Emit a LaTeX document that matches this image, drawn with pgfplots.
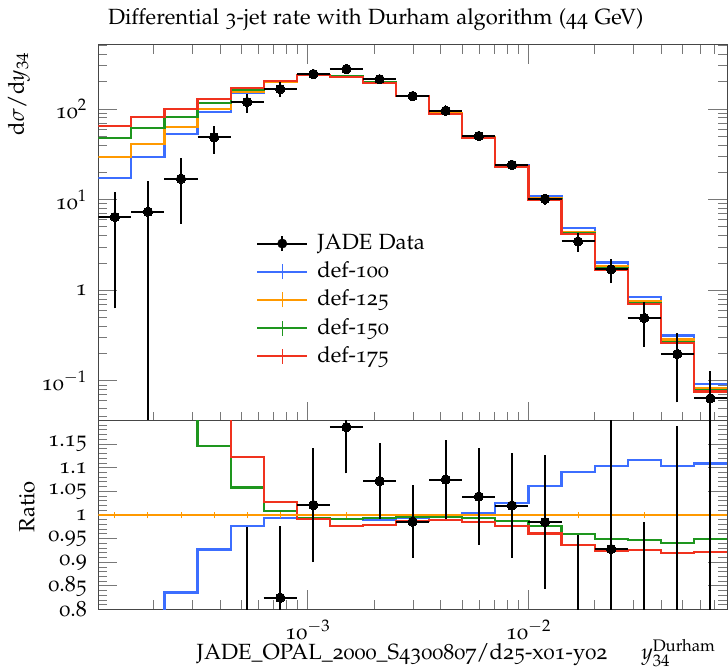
\documentclass[border=0pt]{standalone}
\usepackage[T1]{fontenc}
\usepackage[osf]{mathpazo}
\usepackage{pgfplots}
\usepackage{pgfplotstable}
\pgfplotsset{compat=1.18}
\definecolor{cblue}{RGB}{60,110,255}
\definecolor{corange}{RGB}{255,153,0}
\definecolor{cgreen}{RGB}{30,150,30}
\definecolor{cred}{RGB}{240,50,30}
\definecolor{framec}{RGB}{70,70,70}
\definecolor{tickc}{RGB}{120,120,120}

% data points: bin centre, value (main panel) and ratio to def-125
\pgfplotstableread{
x y r
1.3335e-4 6.43 0.219
1.8836e-4 7.35 0.179
2.6607e-4 17.0 0.266
3.7584e-4 48.7 0.483
5.3088e-4 119.5 0.783
7.4989e-4 166 0.825
1.0593e-3 243 1.021
1.4962e-3 276 1.186
2.1135e-3 213 1.072
2.9854e-3 139 0.986
4.2170e-3 95.8 1.075
5.9566e-3 50.3 1.039
8.4140e-3 24.2 1.020
1.1885e-2 10.2 0.985
1.6788e-2 3.45 0.775
2.3714e-2 1.70 0.928
3.3497e-2 0.494 0.65
4.7315e-2 0.198 0.69
6.6834e-2 0.0641 0.776
}\datapts

% MC histograms: left bin edge, value (last row = right edge)
\pgfplotstableread{
x B O G R
1.1220e-4 17.3 29.3 48.2 65.5
1.5849e-4 29.8 41.1 62.2 81.0
2.2387e-4 53.3 63.8 82.2 100.7
3.1623e-4 93.4 100.8 115.5 130.0
4.4668e-4 149.2 152.7 161.6 171.4
6.3096e-4 198.8 200 201.8 205.5
8.9125e-4 236.3 238 236.3 235.9
1.2589e-3 229.9 232 230.0 226.7
1.7783e-3 196.3 198.5 197.2 194.3
2.5119e-3 139.1 140 139.5 138.2
3.5481e-3 88.6 89.0 88.6 88.0
5.0119e-3 48.7 48.5 48.2 47.8
7.0795e-3 24.3 23.7 23.4 23.2
1.0000e-2 11.03 10.4 10.16 9.99
1.4125e-2 4.83 4.43 4.25 4.15
1.9953e-2 2.02 1.83 1.74 1.69
2.8184e-2 0.850 0.762 0.721 0.706
3.9811e-2 0.316 0.286 0.269 0.263
5.6234e-2 0.0916 0.0826 0.0785 0.0761
7.9433e-2 0.0916 0.0826 0.0785 0.0761
}\mcmain

\pgfplotstableread{
x B O G R
1.1220e-4 0.590 1 1.645 2.235
1.5849e-4 0.725 1 1.513 1.971
2.2387e-4 0.836 1 1.288 1.578
3.1623e-4 0.927 1 1.146 1.290
4.4668e-4 0.977 1 1.058 1.1225
6.3096e-4 0.994 1 1.009 1.0275
8.9125e-4 0.993 1 0.993 0.991
1.2589e-3 0.991 1 0.9915 0.977
1.7783e-3 0.989 1 0.9937 0.979
2.5119e-3 0.9937 1 0.9965 0.987
3.5481e-3 0.995 1 0.9958 0.989
5.0119e-3 1.005 1 0.9944 0.986
7.0795e-3 1.026 1 0.9866 0.977
1.0000e-2 1.061 1 0.977 0.961
1.4125e-2 1.091 1 0.959 0.937
1.9953e-2 1.1035 1 0.950 0.923
2.8184e-2 1.116 1 0.9465 0.926
3.9811e-2 1.1035 1 0.941 0.919
5.6234e-2 1.109 1 0.950 0.921
7.9433e-2 1.109 1 0.950 0.921
}\mcratio

\pgfplotsset{
  mcline/.style={const plot mark left, line width=2.2pt, no marks},
  errseg/.style={black, line width=2.0pt, no marks},
  datamark/.style={black, only marks, mark=*, mark size=4.7pt,
    mark options={fill=black, draw=black, line width=0pt}},
}

\begin{document}
\fontsize{22}{26}\selectfont
\begin{tikzpicture}
% main panel
\begin{axis}[
  scale only axis, width=628.7pt, height=375.8pt,
  at={(98.3pt,249.5pt)}, anchor=south west,
  xmode=log, xmin=1.1220e-4, xmax=7.9433e-2,
  ymode=log, ymin=0.0365, ymax=512.6,
  axis line style={framec, line width=0.9pt},
  tick style={tickc, line width=0.9pt},
  major tick length=19pt, minor tick length=9pt, tick align=inside,
  xtick={1e-3,1e-2},
  minor xtick={2e-4,3e-4,4e-4,5e-4,6e-4,7e-4,8e-4,9e-4,2e-3,3e-3,4e-3,5e-3,6e-3,7e-3,8e-3,9e-3,2e-2,3e-2,4e-2,5e-2,6e-2,7e-2},
  xtick pos=both, xticklabels={},
  ytick pos=both, yticklabel pos=left,
  yticklabel style={xshift=-4pt, inner ysep=1pt},
  ytick={0.1,1,10,100}, yticklabels={10$^{-1}$,1,10$^{1}$,10$^{2}$},
  minor ytick={0.04,0.05,0.06,0.07,0.08,0.09,0.2,0.3,0.4,0.5,0.6,0.7,0.8,0.9,2,3,4,5,6,7,8,9,20,30,40,50,60,70,80,90,200,300,400,500},
  unbounded coords=jump,
  legend style={at={(axis description cs:0.2508,0.498)}, anchor=north west,
    draw=none, fill=none, inner sep=0pt, row sep=8.2pt, column sep=9pt,
    nodes={inner sep=0pt, text height=16pt, text depth=4pt}},
  legend cell align=left,
]
\addlegendimage{legend image code/.code={
  \draw[black,line width=2pt] (0pt,0pt)--(50pt,0pt);
  \draw[black,line width=2pt] (25pt,-7.5pt)--(25pt,7.5pt);
  \fill[black] (25pt,0pt) circle (4.7pt);}}
\addlegendentry{JADE Data}
\addlegendimage{legend image code/.code={
  \draw[cblue,line width=2.2pt] (0pt,0pt)--(50pt,0pt);
  \draw[cblue,line width=1.4pt] (25pt,-7.5pt)--(25pt,7.5pt);}}
\addlegendentry{def-100}
\addlegendimage{legend image code/.code={
  \draw[corange,line width=2.2pt] (0pt,0pt)--(50pt,0pt);
  \draw[corange,line width=1.4pt] (25pt,-7.5pt)--(25pt,7.5pt);}}
\addlegendentry{def-125}
\addlegendimage{legend image code/.code={
  \draw[cgreen,line width=2.2pt] (0pt,0pt)--(50pt,0pt);
  \draw[cgreen,line width=1.4pt] (25pt,-7.5pt)--(25pt,7.5pt);}}
\addlegendentry{def-150}
\addlegendimage{legend image code/.code={
  \draw[cred,line width=2.2pt] (0pt,0pt)--(50pt,0pt);
  \draw[cred,line width=1.4pt] (25pt,-7.5pt)--(25pt,7.5pt);}}
\addlegendentry{def-175}

\addplot[mcline, cblue, forget plot] table[x=x, y=B] {\mcmain};
\addplot[mcline, corange, forget plot] table[x=x, y=O] {\mcmain};
\addplot[mcline, cgreen, forget plot] table[x=x, y=G] {\mcmain};
\addplot[mcline, cred, forget plot] table[x=x, y=R] {\mcmain};
% data error bars: bin extent and y uncertainty
\addplot[errseg, forget plot] coordinates {
(1.1220e-4,6.43)(1.5849e-4,6.43)(nan,nan)(1.3335e-4,0.63)(1.3335e-4,12.23)(nan,nan)
(1.5849e-4,7.35)(2.2387e-4,7.35)(nan,nan)(1.8836e-4,0.01)(1.8836e-4,16.2)(nan,nan)
(2.2387e-4,17.0)(3.1623e-4,17.0)(nan,nan)(2.6607e-4,5.4)(2.6607e-4,28.6)(nan,nan)
(3.1623e-4,48.7)(4.4668e-4,48.7)(nan,nan)(3.7584e-4,32.2)(3.7584e-4,65.2)(nan,nan)
(4.4668e-4,119.5)(6.3096e-4,119.5)(nan,nan)(5.3088e-4,91.5)(5.3088e-4,147.5)(nan,nan)
(6.3096e-4,166)(8.9125e-4,166)(nan,nan)(7.4989e-4,135.6)(7.4989e-4,196.4)(nan,nan)
(8.9125e-4,243)(1.2589e-3,243)(nan,nan)(1.0593e-3,214.2)(1.0593e-3,271.8)(nan,nan)
(1.2589e-3,276)(1.7783e-3,276)(nan,nan)(1.4962e-3,253.3)(1.4962e-3,298.7)(nan,nan)
(1.7783e-3,213)(2.5119e-3,213)(nan,nan)(2.1135e-3,197.1)(2.1135e-3,228.9)(nan,nan)
(2.5119e-3,139)(3.5481e-3,139)(nan,nan)(2.9854e-3,128.2)(2.9854e-3,149.8)(nan,nan)
(3.5481e-3,95.8)(5.0119e-3,95.8)(nan,nan)(4.2170e-3,88.4)(4.2170e-3,103.2)(nan,nan)
(5.0119e-3,50.3)(7.0795e-3,50.3)(nan,nan)(5.9566e-3,45.4)(5.9566e-3,55.2)(nan,nan)
(7.0795e-3,24.2)(1.0000e-2,24.2)(nan,nan)(8.4140e-3,21.6)(8.4140e-3,26.8)(nan,nan)
(1.0000e-2,10.2)(1.4125e-2,10.2)(nan,nan)(1.1885e-2,8.73)(1.1885e-2,11.67)(nan,nan)
(1.4125e-2,3.45)(1.9953e-2,3.45)(nan,nan)(1.6788e-2,2.65)(1.6788e-2,4.25)(nan,nan)
(1.9953e-2,1.70)(2.8184e-2,1.70)(nan,nan)(2.3714e-2,1.20)(2.3714e-2,2.20)(nan,nan)
(2.8184e-2,0.494)(3.9811e-2,0.494)(nan,nan)(3.3497e-2,0.237)(3.3497e-2,0.751)(nan,nan)
(3.9811e-2,0.198)(5.6234e-2,0.198)(nan,nan)(4.7315e-2,0.058)(4.7315e-2,0.338)(nan,nan)
(5.6234e-2,0.0641)(7.9433e-2,0.0641)(nan,nan)(6.6834e-2,0.001)(6.6834e-2,0.129)
};
\addplot[datamark, forget plot] table[x=x, y=y] {\datapts};
\end{axis}

% ratio panel
\begin{axis}[
  scale only axis, width=628.7pt, height=189pt,
  at={(98.3pt,60.5pt)}, anchor=south west,
  xmode=log, xmin=1.1220e-4, xmax=7.9433e-2,
  ymin=0.8, ymax=1.2,
  axis line style={framec, line width=0.9pt},
  tick style={tickc, line width=0.9pt},
  major tick length=19pt, minor tick length=9pt, tick align=inside,
  xtick={1e-3,1e-2},
  minor xtick={2e-4,3e-4,4e-4,5e-4,6e-4,7e-4,8e-4,9e-4,2e-3,3e-3,4e-3,5e-3,6e-3,7e-3,8e-3,9e-3,2e-2,3e-2,4e-2,5e-2,6e-2,7e-2},
  xtick pos=lower, xticklabels={10$^{-3}$,10$^{-2}$},
  xticklabel style={yshift=-3pt},
  ytick pos=both, yticklabel pos=left,
  yticklabel style={xshift=-4pt, inner ysep=0.5pt},
  ytick={0.8,0.85,0.9,0.95,1,1.05,1.1,1.15},
  yticklabels={0.8,0.85,0.9,0.95,1,1.05,1.1,1.15},
  minor ytick={0.81,0.82,0.83,0.84,0.86,0.87,0.88,0.89,0.91,0.92,0.93,0.94,0.96,0.97,0.98,0.99,1.01,1.02,1.03,1.04,1.06,1.07,1.08,1.09,1.11,1.12,1.13,1.14,1.16,1.17,1.18,1.19},
  unbounded coords=jump,
]
\addplot[mcline, cblue] table[x=x, y=B] {\mcratio};
\addplot[mcline, cgreen] table[x=x, y=G] {\mcratio};
\addplot[mcline, cred] table[x=x, y=R] {\mcratio};
\addplot[mcline, corange] table[x=x, y=O] {\mcratio};
% small MC uncertainty ticks on the def-125 reference line
\addplot[corange, line width=1pt, no marks] coordinates {
(1.3335e-4,0.993)(1.3335e-4,1.007)(nan,nan)(1.8836e-4,0.993)(1.8836e-4,1.007)(nan,nan)
(2.6607e-4,0.993)(2.6607e-4,1.007)(nan,nan)(3.7584e-4,0.993)(3.7584e-4,1.007)(nan,nan)
(5.3088e-4,0.993)(5.3088e-4,1.007)(nan,nan)(7.4989e-4,0.993)(7.4989e-4,1.007)(nan,nan)
(1.0593e-3,0.993)(1.0593e-3,1.007)(nan,nan)(1.4962e-3,0.993)(1.4962e-3,1.007)(nan,nan)
(2.1135e-3,0.993)(2.1135e-3,1.007)(nan,nan)(2.9854e-3,0.993)(2.9854e-3,1.007)(nan,nan)
(4.2170e-3,0.993)(4.2170e-3,1.007)(nan,nan)(5.9566e-3,0.993)(5.9566e-3,1.007)(nan,nan)
(8.4140e-3,0.993)(8.4140e-3,1.007)(nan,nan)(1.1885e-2,0.993)(1.1885e-2,1.007)(nan,nan)
(1.6788e-2,0.993)(1.6788e-2,1.007)(nan,nan)(2.3714e-2,0.993)(2.3714e-2,1.007)(nan,nan)
(3.3497e-2,0.993)(3.3497e-2,1.007)(nan,nan)(4.7315e-2,0.993)(4.7315e-2,1.007)(nan,nan)
(6.6834e-2,0.993)(6.6834e-2,1.007)
};
\addplot[errseg] coordinates {
(1.1220e-4,0.219)(1.5849e-4,0.219)(nan,nan)(1.3335e-4,0.021)(1.3335e-4,0.417)(nan,nan)
(1.5849e-4,0.179)(2.2387e-4,0.179)(nan,nan)(1.8836e-4,-0.036)(1.8836e-4,0.394)(nan,nan)
(2.2387e-4,0.266)(3.1623e-4,0.266)(nan,nan)(2.6607e-4,0.084)(2.6607e-4,0.448)(nan,nan)
(3.1623e-4,0.483)(4.4668e-4,0.483)(nan,nan)(3.7584e-4,0.319)(3.7584e-4,0.647)(nan,nan)
(4.4668e-4,0.783)(6.3096e-4,0.783)(nan,nan)(5.3088e-4,0.591)(5.3088e-4,0.975)(nan,nan)
(6.3096e-4,0.825)(8.9125e-4,0.825)(nan,nan)(7.4989e-4,0.673)(7.4989e-4,0.977)(nan,nan)
(8.9125e-4,1.021)(1.2589e-3,1.021)(nan,nan)(1.0593e-3,0.900)(1.0593e-3,1.142)(nan,nan)
(1.2589e-3,1.186)(1.7783e-3,1.186)(nan,nan)(1.4962e-3,1.088)(1.4962e-3,1.284)(nan,nan)
(1.7783e-3,1.072)(2.5119e-3,1.072)(nan,nan)(2.1135e-3,0.992)(2.1135e-3,1.152)(nan,nan)
(2.5119e-3,0.986)(3.5481e-3,0.986)(nan,nan)(2.9854e-3,0.909)(2.9854e-3,1.063)(nan,nan)
(3.5481e-3,1.075)(5.0119e-3,1.075)(nan,nan)(4.2170e-3,0.992)(4.2170e-3,1.158)(nan,nan)
(5.0119e-3,1.039)(7.0795e-3,1.039)(nan,nan)(5.9566e-3,0.937)(5.9566e-3,1.141)(nan,nan)
(7.0795e-3,1.020)(1.0000e-2,1.020)(nan,nan)(8.4140e-3,0.909)(8.4140e-3,1.131)(nan,nan)
(1.0000e-2,0.985)(1.4125e-2,0.985)(nan,nan)(1.1885e-2,0.844)(1.1885e-2,1.126)(nan,nan)
(1.4125e-2,0.775)(1.9953e-2,0.775)(nan,nan)(1.6788e-2,0.592)(1.6788e-2,0.958)(nan,nan)
(1.9953e-2,0.928)(2.8184e-2,0.928)(nan,nan)(2.3714e-2,0.648)(2.3714e-2,1.208)(nan,nan)
(2.8184e-2,0.65)(3.9811e-2,0.65)(nan,nan)(3.3497e-2,0.314)(3.3497e-2,0.986)(nan,nan)
(3.9811e-2,0.69)(5.6234e-2,0.69)(nan,nan)(4.7315e-2,0.192)(4.7315e-2,1.188)(nan,nan)
(5.6234e-2,0.776)(7.9433e-2,0.776)(nan,nan)(6.6834e-2,-0.014)(6.6834e-2,1.566)
};
\addplot[datamark] table[x=x, y=r] {\datapts};
\end{axis}

\node[anchor=base west] at (100.5pt,645pt) {Differential 3-jet rate with Durham algorithm (44 GeV)};
\node[rotate=90, anchor=east] at (19pt,625pt) {$\mathrm{d}\sigma/\mathrm{d}y_{34}$};
\node[rotate=90] at (27pt,163pt) {Ratio};
\node[anchor=base] at (402pt,11pt) {JADE\_OPAL\_2000\_S4300807/d25-x01-y02};
\node[anchor=base east] at (723pt,11pt) {$y_{34}^{\mathrm{Durham}}$};

\pgfresetboundingbox
\path[use as bounding box] (0pt,0pt) rectangle (728pt,670pt);
\end{tikzpicture}
\end{document}
